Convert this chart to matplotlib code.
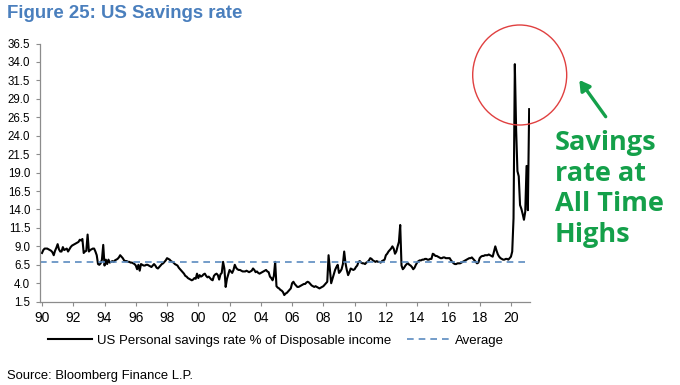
import matplotlib
matplotlib.use("Agg")
import matplotlib.pyplot as plt
import numpy as np
from matplotlib.patches import Ellipse

# US personal savings rate, % of disposable income, monthly from Jan 1990
start_year = 1990
savings_rate = [
    8.1, 8.5, 8.7, 8.7, 8.7, 8.6, 8.5, 8.4, 8.2, 7.8, 8.4, 8.8,    # 1990
    9.3, 8.6, 8.3, 8.3, 8.9, 8.5, 8.6, 8.7, 8.3, 8.6, 8.9, 9.1,    # 1991
    9.2, 9.3, 9.4, 9.5, 9.6, 9.9, 9.8, 10.0, 8.1, 8.3, 8.4, 10.6,  # 1992
    8.3, 8.5, 8.6, 8.7, 8.7, 8.3, 7.8, 6.6, 6.5, 6.7, 7.2, 9.2,    # 1993
    6.4, 7.2, 6.6, 7.2, 6.8, 6.9, 7.0, 6.9, 7.1, 7.2, 7.3, 7.5,    # 1994
    7.8, 7.6, 7.4, 7.1, 7.0, 7.0, 6.9, 6.9, 6.8, 6.8, 6.7, 6.6,    # 1995
    6.4, 5.9, 6.5, 5.7, 6.6, 6.5, 6.4, 6.4, 6.5, 6.5, 6.4, 6.3,    # 1996
    6.2, 6.4, 6.6, 6.4, 6.1, 6.0, 6.2, 6.4, 6.6, 6.7, 6.9, 7.1,    # 1997
    7.4, 7.3, 7.2, 7.0, 6.9, 6.8, 6.6, 6.5, 6.4, 6.1, 5.9, 5.7,    # 1998
    5.5, 5.3, 5.0, 4.9, 4.7, 4.6, 4.5, 4.4, 4.5, 4.7, 4.6, 5.3,    # 1999
    4.7, 5.1, 4.9, 5.0, 5.2, 5.3, 5.0, 4.8, 4.9, 4.7, 4.5, 4.4,    # 2000
    5.0, 5.2, 5.3, 5.1, 4.5, 5.2, 5.4, 6.9, 6.0, 3.5, 4.6, 5.2,    # 2001
    5.8, 5.6, 5.4, 5.8, 6.5, 6.1, 5.9, 5.8, 5.8, 5.7, 5.6, 5.6,    # 2002
    5.6, 5.7, 5.6, 5.5, 5.6, 5.7, 6.0, 5.8, 5.5, 5.6, 5.4, 5.3,    # 2003
    5.4, 5.5, 5.6, 5.7, 5.8, 5.6, 5.5, 4.9, 4.7, 4.4, 5.0, 6.9,    # 2004
    3.6, 3.4, 3.3, 3.1, 3.0, 2.8, 2.4, 2.6, 2.7, 2.9, 3.1, 3.3,    # 2005
    4.0, 4.2, 3.9, 3.7, 3.5, 3.5, 3.6, 3.7, 3.8, 3.9, 3.9, 4.1,    # 2006
    4.2, 4.1, 3.9, 3.7, 3.6, 3.5, 3.6, 3.5, 3.4, 3.3, 3.4, 3.5,    # 2007
    3.6, 3.8, 4.0, 4.2, 7.8, 5.9, 4.0, 4.6, 5.2, 5.8, 6.2, 6.5,    # 2008
    5.4, 5.6, 5.9, 6.6, 8.3, 6.7, 5.8, 5.1, 5.5, 6.0, 5.9, 5.8,    # 2009
    5.9, 6.2, 6.4, 6.9, 7.0, 6.8, 6.7, 6.7, 6.6, 6.8, 6.9, 7.1,    # 2010
    7.4, 7.3, 7.1, 7.0, 6.9, 7.0, 6.9, 6.9, 6.8, 7.0, 7.1, 7.2,    # 2011
    7.8, 8.0, 8.3, 8.5, 8.7, 9.0, 8.7, 8.0, 8.3, 9.0, 9.6, 11.9,   # 2012
    6.4, 5.9, 6.1, 6.4, 6.6, 6.7, 6.5, 6.4, 6.2, 5.9, 6.1, 6.5,    # 2013
    6.8, 7.0, 7.1, 7.1, 7.2, 7.2, 7.3, 7.3, 7.2, 7.2, 7.3, 7.3,    # 2014
    8.0, 7.9, 7.7, 7.7, 7.6, 7.5, 7.4, 7.4, 7.5, 7.5, 7.4, 7.4,    # 2015
    7.4, 7.4, 7.1, 6.9, 6.7, 6.6, 6.6, 6.7, 6.7, 6.7, 6.8, 6.9,    # 2016
    7.0, 7.1, 7.2, 7.3, 7.4, 7.4, 7.5, 7.3, 7.1, 6.9, 6.7, 6.8,    # 2017
    7.4, 7.6, 7.7, 7.7, 7.8, 7.8, 7.8, 7.9, 7.8, 7.7, 7.6, 8.3,    # 2018
    9.0, 8.4, 7.9, 7.6, 7.4, 7.3, 7.2, 7.2, 7.3, 7.3, 7.2, 7.4,    # 2019
    7.6, 8.3, 12.8, 33.7, 24.8, 19.2, 18.5, 14.6, 14.1, 13.4, 12.6, 13.7,  # 2020
    19.9, 13.9, 27.6,                                              # 2021
]
average_rate = 6.9

x_ticks = list(range(1990, 2021, 2))
x_labels = [f"{y % 100:02d}" for y in x_ticks]
y_ticks = [1.5 + 2.5 * i for i in range(15)]

BLUE_TITLE = "#4a7fbd"
DASH_BLUE = "#5b8bc0"
GREEN = "#14a04a"
AXIS_GRAY = "#8c8c8c"

plt.rcParams["font.family"] = ["Liberation Sans", "DejaVu Sans"]
narrow = ["Liberation Sans Narrow", "Liberation Sans", "DejaVu Sans"]

months = start_year + np.arange(len(savings_rate)) / 12

fig = plt.figure(figsize=(6.8, 3.85), dpi=100)
ax = fig.add_axes([0.0588, 0.2164, 0.7206, 0.6706])

ax.plot(months, savings_rate, color="black", lw=1.5,
        label="US Personal savings rate % of Disposable income")
ax.axhline(average_rate, color=DASH_BLUE, lw=1.2, dashes=(4, 3), label="Average")

ax.set_xlim(1989.87, 2021.22)
ax.set_ylim(1.5, 36.5)
ax.set_xticks(x_ticks)
ax.set_xticklabels(x_labels, family=narrow, fontsize=10)
ax.set_yticks(y_ticks)
ax.set_yticklabels([f"{v:.1f}" for v in y_ticks], family=narrow, fontsize=8.3)
ax.tick_params(axis="both", direction="out", length=3, color=AXIS_GRAY, width=0.8)
ax.tick_params(axis="x", pad=4)
ax.tick_params(axis="y", pad=4)
for side in ("top", "right"):
    ax.spines[side].set_visible(False)
for side in ("left", "bottom"):
    ax.spines[side].set_color(AXIS_GRAY)
    ax.spines[side].set_linewidth(0.9)

fig.legend(loc="center", bbox_to_anchor=(0.406, 0.115), ncol=2, frameon=False,
           fontsize=9.5, handlelength=3.3, handletextpad=0.35, columnspacing=1.2)

fig.text(7 / 680, 1 - 14 / 385, "Figure 25: US Savings rate", fontsize=13.4,
         fontweight="bold", color=BLUE_TITLE, va="center", ha="left")
fig.text(7 / 680, 1 - 376 / 385, "Source: Bloomberg Finance L.P.", fontsize=9.4,
         va="center", ha="left")

# annotation: red circle, green arrow and note
fig.add_artist(Ellipse((519.7 / 680, 1 - 75 / 385), 94 / 680, 100 / 385,
                       transform=fig.transFigure, fill=False,
                       edgecolor="#e04040", lw=1.0))
fig.add_artist(plt.Annotation("", xy=(579.3 / 680, 1 - 80 / 385),
                              xytext=(605.7 / 680, 1 - 116.7 / 385),
                              xycoords="figure fraction", textcoords="figure fraction",
                              arrowprops=dict(arrowstyle="-|>,head_length=0.6,head_width=0.35",
                                              color=GREEN, lw=2.4, shrinkA=0, shrinkB=0)))
fig.text(555 / 680, 1 - 189 / 385, "Savings\nrate at\nAll Time\nHighs",
         family=["Open Sans", "DejaVu Sans"], fontweight="bold", fontsize=19.5,
         color=GREEN, ha="left", va="center", linespacing=1.24)

fig.savefig("out.png", dpi=100)
